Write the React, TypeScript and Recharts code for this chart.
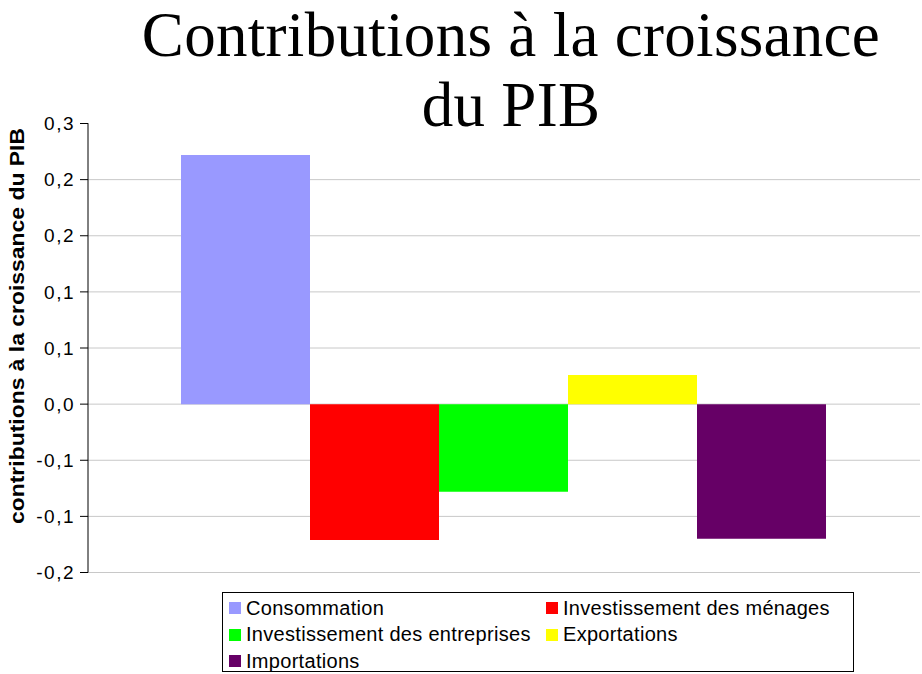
import { BarChart, Bar, XAxis, YAxis, CartesianGrid, Legend, Label } from 'recharts';

const categories = ['PIB'];
const seriesNames = [
  'Consommation',
  'Investissement des ménages',
  'Investissement des entreprises',
  'Exportations',
  'Importations',
];
const seriesValues = [0.222, -0.121, -0.078, 0.026, -0.12];
const seriesColors = ['#9999FF', '#FF0000', '#00FF00', '#FFFF00', '#660066'];
const yTicks = [-0.15, -0.1, -0.05, 0, 0.05, 0.1, 0.15, 0.2, 0.25];

const chartData = categories.map((c) => {
  const row: Record<string, string | number> = { category: c };
  seriesNames.forEach((n, i) => {
    row[n] = seriesValues[i];
  });
  return row;
});

const sans = '"Liberation Sans", Arial, sans-serif';
const serif = '"Liberation Serif", "Times New Roman", serif';

// Excel-style rounding to one decimal (half away from zero), comma decimal
const fmt = (v: number) => {
  const s = v < 0 ? -1 : 1;
  const r = (s * Math.round(Math.abs(v) * 10 + 1e-9)) / 10;
  return r.toFixed(1).replace('.', ',');
};

const renderLegend = () => (
  <div
    style={{
      width: 632,
      height: 80,
      boxSizing: 'border-box',
      border: '1px solid #000',
      background: '#fff',
      padding: '2px 0 0 6px',
      display: 'grid',
      gridTemplateColumns: '317px 300px',
      gridAutoRows: '26.5px',
      fontFamily: sans,
      fontSize: 20,
      letterSpacing: '0.3px',
      color: '#000',
    }}
  >
    {seriesNames.map((n, i) => (
      <div key={n} style={{ display: 'flex', alignItems: 'center', whiteSpace: 'nowrap' }}>
        <span
          style={{
            display: 'inline-block',
            width: 12,
            height: 12,
            background: seriesColors[i],
            marginRight: 5,
          }}
        />
        {n}
      </div>
    ))}
  </div>
);

const renderYLabel = () => (
  <text
    x={24}
    y={326}
    transform="rotate(-90 24 326)"
    textAnchor="middle"
    fontFamily={sans}
    fontWeight="bold"
    fontSize={20}
    textLength={396}
    lengthAdjust="spacingAndGlyphs"
    fill="#000"
  >
    contributions à la croissance du PIB
  </text>
);

const titleStyle = {
  position: 'absolute' as const,
  left: 11,
  width: 822,
  textAlign: 'center' as const,
  fontFamily: serif,
  fontSize: 63,
  letterSpacing: '0.3px',
  color: '#000',
};

export default function App() {
  return (
    <div style={{ position: 'absolute', left: 0, top: 0, width: 922, height: 674, background: '#fff' }}>
      <BarChart
        width={922}
        height={674}
        data={chartData}
        margin={{ top: 123.5, right: 2, bottom: 101.5, left: 28 }}
        barCategoryGap={93}
        barGap={0}
      >
        <CartesianGrid vertical={false} stroke="#c8c8c8" strokeWidth={1} />
        <XAxis
          dataKey="category"
          height={0}
          tick={false}
          tickLine={false}
          axisLine={{ stroke: '#808080', strokeWidth: 1.5 }}
        />
        <YAxis
          domain={[-0.15, 0.25]}
          ticks={yTicks}
          tickFormatter={fmt}
          width={60}
          tickSize={8}
          tickMargin={5}
          interval={0}
          allowDataOverflow
          tick={{ fill: '#000', fontSize: 19, fontFamily: sans, letterSpacing: 1.5 }}
          tickLine={{ stroke: '#000' }}
          axisLine={{ stroke: '#000' }}
        >
          <Label content={renderYLabel} />
        </YAxis>
        <YAxis
          yAxisId="right"
          orientation="right"
          width={0}
          tick={false}
          tickLine={false}
          axisLine={{ stroke: '#808080', strokeWidth: 2 }}
        />
        {seriesNames.map((n, i) => (
          <Bar key={n} dataKey={n} fill={seriesColors[i]} isAnimationActive={false} />
        ))}
        <Legend
          layout="horizontal"
          verticalAlign="middle"
          align="center"
          content={renderLegend}
          wrapperStyle={{ left: 222, top: 592, width: 632, height: 80 }}
        />
      </BarChart>
      {/* title box sits over the top of the plot area, as in the original */}
      <div
        style={{
          position: 'absolute',
          left: 89,
          top: 0,
          width: 833,
          height: 150,
          background: '#fff',
        }}
      >
        <div style={{ ...titleStyle, top: 0, lineHeight: '70px' }}>Contributions à la croissance</div>
        <div style={{ ...titleStyle, top: 70, lineHeight: '70px' }}>du PIB</div>
      </div>
    </div>
  );
}
